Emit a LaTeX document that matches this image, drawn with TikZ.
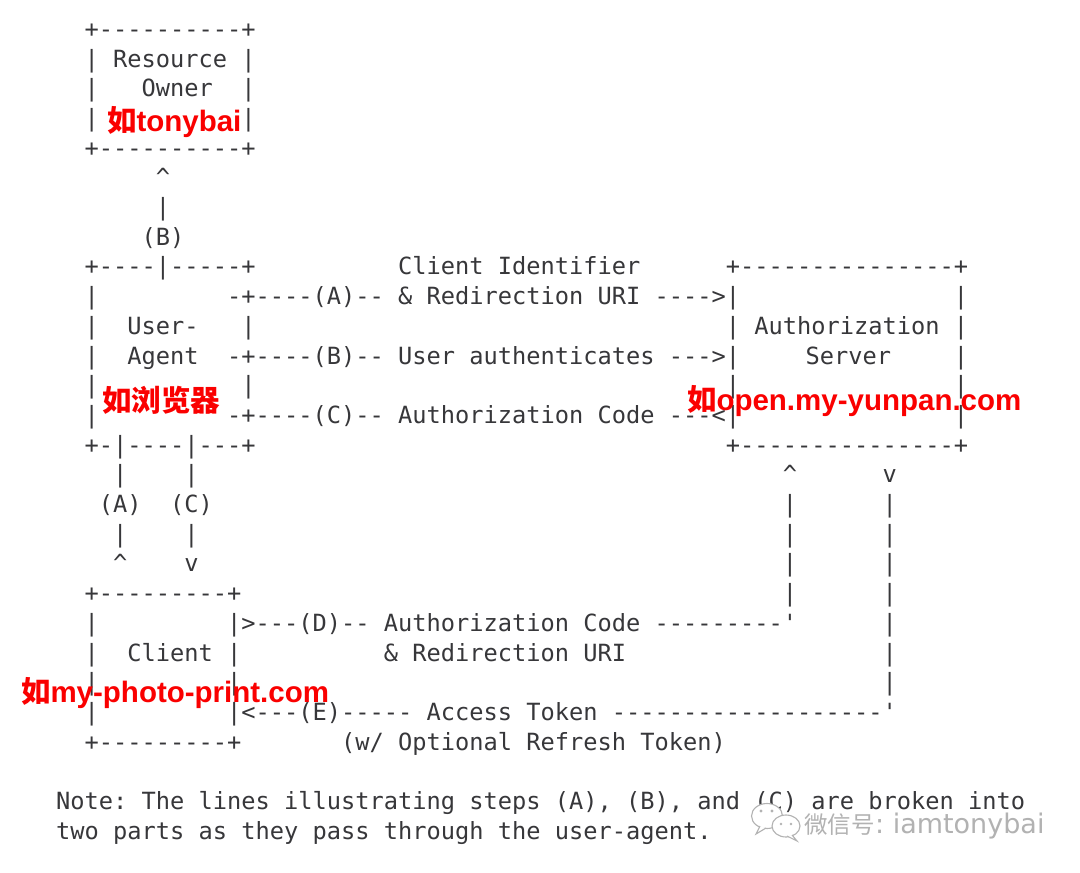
\documentclass[tikz,border=0pt]{standalone}
\usepackage{fontspec}
\setmonofont{DejaVu Sans Mono}
\newfontfamily\labfont{Liberation Sans}
\newfontfamily\cjk{Noto Sans CJK SC}
\newfontfamily\wmfont{DejaVu Sans}
\definecolor{ink}{RGB}{55,55,58}
\definecolor{lab}{RGB}{250,0,0}
\definecolor{wm}{RGB}{178,178,178}
\frenchspacing
\tikzset{
  asc/.style={anchor=base west, inner sep=0pt, outer sep=0pt, text=ink,
    font=\ttfamily\fontsize{23.67}{28}\selectfont},
  redlab/.style={anchor=base west, inner sep=0pt, outer sep=0pt, text=lab,
    font=\labfont\bfseries\fontsize{29.5}{34}\selectfont},
  wmline/.style={draw=wm, line width=1.1pt, fill=white},
}
\newcommand\At[3]{\node[asc] (r#1c#2) at ({13.3+14.25*#2},{37.3+29.7*#1}) {#3};}
\begin{document}
\begin{tikzpicture}[x=1pt,y=-1pt]
\fill[white] (0,0) rectangle (1080,873);
\useasboundingbox (0,0) rectangle (1080,873);
% Resource owner
\At{0}{5}{+----------+}
\At{1}{5}{| Resource |}
\At{2}{5}{|}\At{2}{9}{Owner}\At{2}{16}{|}
\At{3}{5}{|}\At{3}{16}{|}
\At{4}{5}{+----------+}
\At{5}{10}{\textasciicircum}
\At{6}{10}{|}
\At{7}{9}{(B)}
% user agent / authorization server
\At{8}{5}{+----|-----+}\At{8}{27}{Client Identifier}\At{8}{50}{+---------------+}
\At{9}{5}{|}\At{9}{15}{-+----(A)-- \& Redirection URI ---->|}\At{9}{66}{|}
\At{10}{5}{|}\At{10}{8}{User-}\At{10}{16}{|}\At{10}{50}{| Authorization |}
\At{11}{5}{|}\At{11}{8}{Agent}\At{11}{15}{-+----(B)-- User authenticates --->|}\At{11}{55.6}{Server}\At{11}{66}{|}
\At{12}{5}{|}\At{12}{16}{|}\At{12}{50}{|}\At{12}{66}{|}
\At{13}{5}{|}\At{13}{15}{-+----(C)-- Authorization Code ---<|}\At{13}{66}{|}
\At{14}{5}{+-|----|---+}\At{14}{50}{+---------------+}
\At{15}{7}{|}\At{15}{12}{|}\At{15}{54}{\textasciicircum}\At{15}{61}{v}
\At{16}{6}{(A)}\At{16}{11}{(C)}\At{16}{54}{|}\At{16}{61}{|}
\At{17}{7}{|}\At{17}{12}{|}\At{17}{54}{|}\At{17}{61}{|}
\At{18}{7}{\textasciicircum}\At{18}{12}{v}\At{18}{54}{|}\At{18}{61}{|}
% client
\At{19}{5}{+---------+}\At{19}{54}{|}\At{19}{61}{|}
\At{20}{5}{|}\At{20}{15}{|>---(D)-- Authorization Code ---------'}\At{20}{61}{|}
\At{21}{5}{|}\At{21}{8}{Client}\At{21}{15}{|}\At{21}{26}{\& Redirection URI}\At{21}{61}{|}
\At{22}{5}{|}\At{22}{15}{|}\At{22}{61}{|}
\At{23}{5}{|}\At{23}{15}{|<---(E)----- Access Token -------------------'}
\At{24}{5}{+---------+}\At{24}{23}{(w/ Optional Refresh Token)}
% note
\At{26}{3}{Note: The lines illustrating steps (A), (B), and (C) are broken into}
\At{27}{3}{two parts as they pass through the user-agent.}
% red annotations
\node[redlab] (owner) at (107,131) {{\cjk 如}tonybai};
\node[redlab] (agent) at (102,411) {\cjk 如浏览器};
\node[redlab] (server) at (687,410) {{\cjk 如}open.my-yunpan.com};
\node[redlab] (client) at (21,702) {{\cjk 如}my-photo-print.com};
% watermark
\path[wmline] (767,816) ellipse (15.5 and 12.5);
\path[wmline] (760,826) -- (756,834) -- (766,828);
\path[wmline] (786,826) ellipse (14 and 11);
\path[wmline] (792,835) -- (797,841) -- (787,836);
\fill[wm] (761,811) circle (1.6) (772,811) circle (1.6);
\fill[wm] (781,824) circle (1.4) (791,824) circle (1.4);
\node[anchor=base west, inner sep=0pt, text=wm, font=\cjk\fontsize{23.5}{28}\selectfont] (wmcn) at (804,833) {微信号};
\node[anchor=base west, inner sep=0pt, text=wm, font=\wmfont\fontsize{27}{32}\selectfont] (wmid) at (wmcn.base east) {: iamtonybai};
\end{tikzpicture}
\end{document}
